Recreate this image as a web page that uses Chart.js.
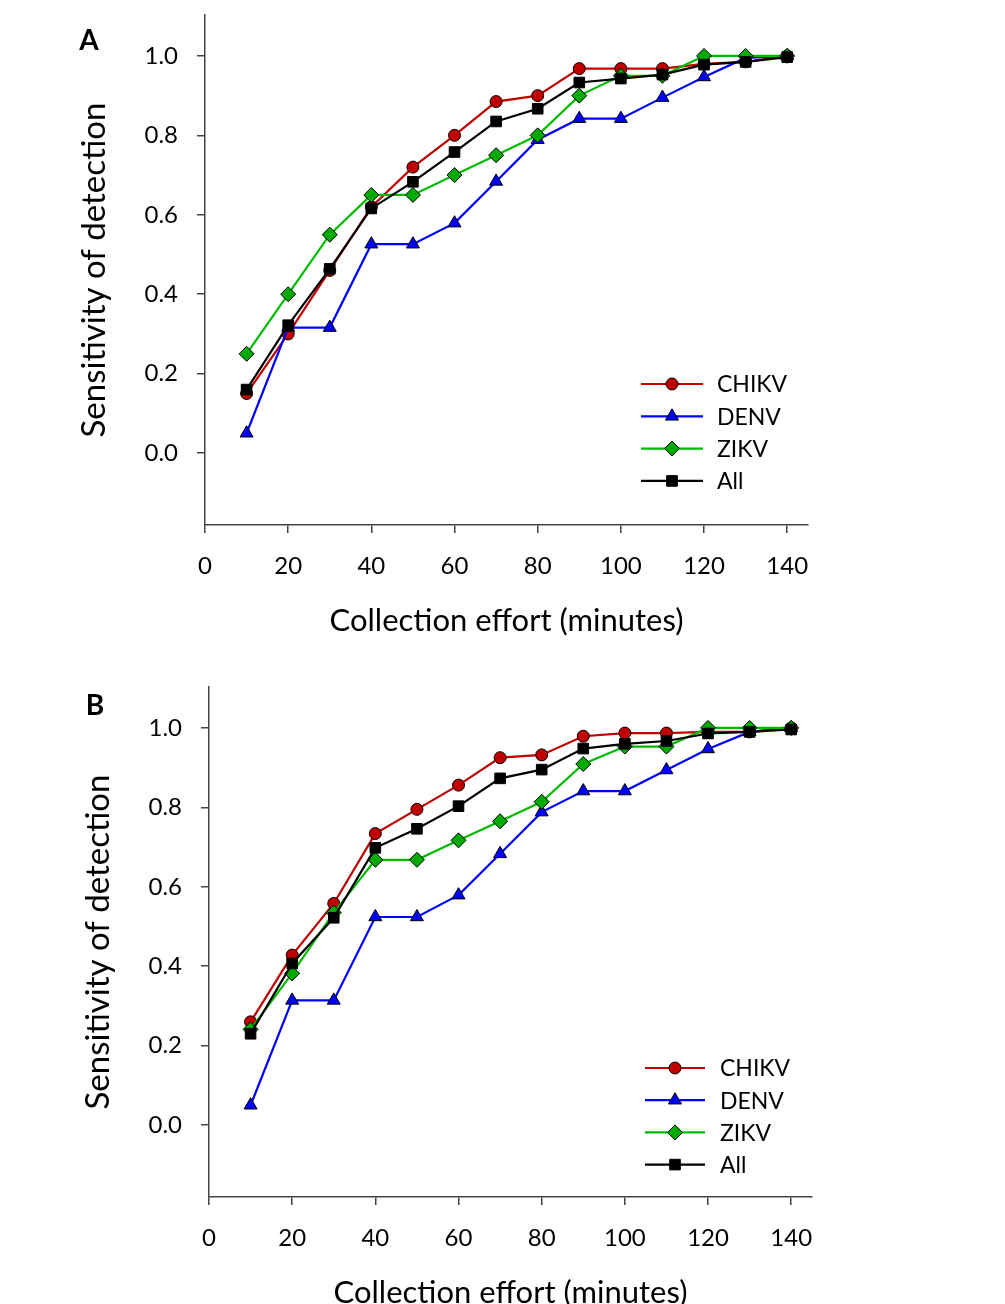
<!DOCTYPE html>
<html>
<head>
<meta charset="utf-8">
<script src="https://cdn.jsdelivr.net/npm/chart.js@4/dist/chart.umd.min.js"></script>
<style>
  html, body { margin: 0; padding: 0; background: #ffffff; width: 1005px; height: 1304px; overflow: hidden; }
  .panel { position: absolute; width: 1005px; height: 652px; }
  #pa { left: 0; top: 0; }
  #pb { left: 4px; top: 672px; }
</style>
</head>
<body>
<div class="panel" id="pa"><canvas id="chartA" width="1005" height="652"></canvas></div>
<div class="panel" id="pb"><canvas id="chartB" width="1005" height="652"></canvas></div>
<script>
// ---- data ----
const effortMinutes = [10, 20, 30, 40, 50, 60, 70, 80, 90, 100, 110, 120, 130, 140];
const seriesNames = ['CHIKV', 'DENV', 'ZIKV', 'All'];
const xTickValues = [0, 20, 40, 60, 80, 100, 120, 140];
const yTickValues = [0.0, 0.2, 0.4, 0.6, 0.8, 1.0];

const chikvA = [0.15, 0.30, 0.46, 0.62, 0.72, 0.80, 0.885, 0.90, 0.968, 0.968, 0.968, 0.98, 0.985, 1.0];
const denvA  = [0.05, 0.316, 0.316, 0.526, 0.526, 0.579, 0.684, 0.789, 0.842, 0.842, 0.895, 0.947, 0.995, 1.0];
const zikvA  = [0.25, 0.40, 0.55, 0.65, 0.65, 0.70, 0.75, 0.80, 0.90, 0.95, 0.95, 1.0, 1.0, 1.0];
const allA   = [0.16, 0.322, 0.464, 0.616, 0.683, 0.758, 0.835, 0.867, 0.933, 0.943, 0.953, 0.978, 0.985, 0.997];

const chikvB = [0.26, 0.428, 0.558, 0.734, 0.795, 0.856, 0.925, 0.932, 0.979, 0.987, 0.987, 0.99, 0.99, 1.0];
const denvB  = [0.05, 0.314, 0.314, 0.524, 0.524, 0.579, 0.683, 0.788, 0.841, 0.841, 0.894, 0.947, 0.99, 1.0];
const zikvB  = [0.241, 0.382, 0.535, 0.668, 0.668, 0.717, 0.765, 0.814, 0.909, 0.953, 0.953, 1.0, 1.0, 1.0];
const allB   = [0.23, 0.407, 0.522, 0.698, 0.746, 0.803, 0.873, 0.895, 0.948, 0.96, 0.967, 0.986, 0.99, 0.996];

// ---- styles ----
const FONT = 'Lato, "Open Sans", sans-serif';
const styles = [
  { line: '#c00000', fill: '#c00000', shape: 'circle',   r: 6,   order: 3 },
  { line: '#0000ff', fill: '#0000ff', shape: 'triangle', r: 7.5, order: 2 },
  { line: '#00bb00', fill: '#00aa00', shape: 'rectRot',  r: 7.5, order: 1 },
  { line: '#000000', fill: '#000000', shape: 'rect',     r: 7.5, order: 0 }
];

function makeDatasets(arrays) {
  return arrays.map((arr, i) => ({
    label: seriesNames[i],
    data: effortMinutes.map((x, j) => ({ x: x, y: arr[j] })),
    borderColor: styles[i].line,
    backgroundColor: styles[i].fill,
    borderWidth: 2.2,
    pointStyle: styles[i].shape,
    pointRadius: styles[i].r,
    pointHoverRadius: styles[i].r,
    pointBackgroundColor: styles[i].fill,
    pointBorderColor: '#000000',
    pointBorderWidth: 1,
    tension: 0,
    order: styles[i].order,
    clip: false
  }));
}

const panelPlugin = {
  id: 'panelDecor',
  afterDraw(chart, args, opts) {
    const ctx = chart.ctx;
    ctx.save();
    ctx.fillStyle = '#000';
    ctx.font = 'bold 28px ' + FONT;
    ctx.textAlign = 'center';
    ctx.textBaseline = 'middle';
    ctx.fillText(opts.letter, opts.letterX, opts.letterY);
    chart.data.datasets.forEach((ds, i) => {
      const y = opts.legendY + i * opts.legendGap;
      ctx.strokeStyle = ds.borderColor;
      ctx.lineWidth = 2.2;
      ctx.beginPath();
      ctx.moveTo(opts.legendX1, y);
      ctx.lineTo(opts.legendX2, y);
      ctx.stroke();
      ctx.fillStyle = ds.pointBackgroundColor;
      ctx.strokeStyle = ds.pointBorderColor;
      ctx.lineWidth = 1;
      Chart.helpers.drawPoint(ctx, {
        pointStyle: ds.pointStyle, radius: ds.pointRadius, rotation: 0, borderWidth: 1
      }, (opts.legendX1 + opts.legendX2) / 2, y);
      ctx.fillStyle = '#000';
      ctx.font = '23px ' + FONT;
      ctx.textAlign = 'left';
      ctx.textBaseline = 'middle';
      ctx.fillText(ds.label, opts.legendText, y + 1);
    });
    ctx.restore();
  }
};

function makeChart(id, arrays, decor) {
  return new Chart(document.getElementById(id), {
    type: 'line',
    data: { datasets: makeDatasets(arrays) },
    plugins: [panelPlugin],
    options: {
      responsive: false,
      animation: false,
      events: [],
      layout: { padding: { left: 0, right: 197, top: 15, bottom: 7 } },
      plugins: {
        legend: { display: false },
        tooltip: { enabled: false },
        panelDecor: decor
      },
      scales: {
        x: {
          type: 'linear',
          min: 0,
          max: 145,
          afterBuildTicks: s => { s.ticks = xTickValues.map(v => ({ value: v })); },
          afterFit: s => { s.height = 120; s.paddingLeft = 0; s.paddingRight = 0; },
          border: { display: true, color: '#444', width: 1.5 },
          grid: { display: true, drawOnChartArea: false, drawTicks: true, tickLength: 8, color: '#444', lineWidth: 1.5 },
          ticks: { color: '#000', font: { family: FONT, size: 24 }, padding: 19, maxRotation: 0,
                   callback: v => String(v) },
          title: { display: true, text: 'Collection effort (minutes)', color: '#000',
                   font: { family: FONT, size: 31 }, padding: { top: 0, bottom: 5 } }
        },
        y: {
          type: 'linear',
          min: -0.181,
          max: 1.103,
          afterBuildTicks: s => { s.ticks = yTickValues.map(v => ({ value: v })); },
          afterFit: s => { s.width = 205; s.paddingTop = 0; s.paddingBottom = 0; },
          border: { display: true, color: '#444', width: 1.5 },
          grid: { display: true, drawOnChartArea: false, drawTicks: true, tickLength: 8, color: '#444', lineWidth: 1.5 },
          ticks: { color: '#000', font: { family: FONT, size: 24 }, padding: 19,
                   callback: v => Number(v).toFixed(1) },
          title: { display: true, text: 'Sensitivity of detection', color: '#000',
                   font: { family: FONT, size: 33 }, padding: { top: 75, bottom: 0 } }
        }
      }
    }
  });
}

makeChart('chartA', [chikvA, denvA, zikvA, allA],
  { letter: 'A', letterX: 89, letterY: 41, legendX1: 641, legendX2: 703, legendText: 717, legendY: 384, legendGap: 32.3 });
makeChart('chartB', [chikvB, denvB, zikvB, allB],
  { letter: 'B', letterX: 91, letterY: 34, legendX1: 641, legendX2: 701, legendText: 716, legendY: 396, legendGap: 32.2 });
</script>
</body>
</html>
